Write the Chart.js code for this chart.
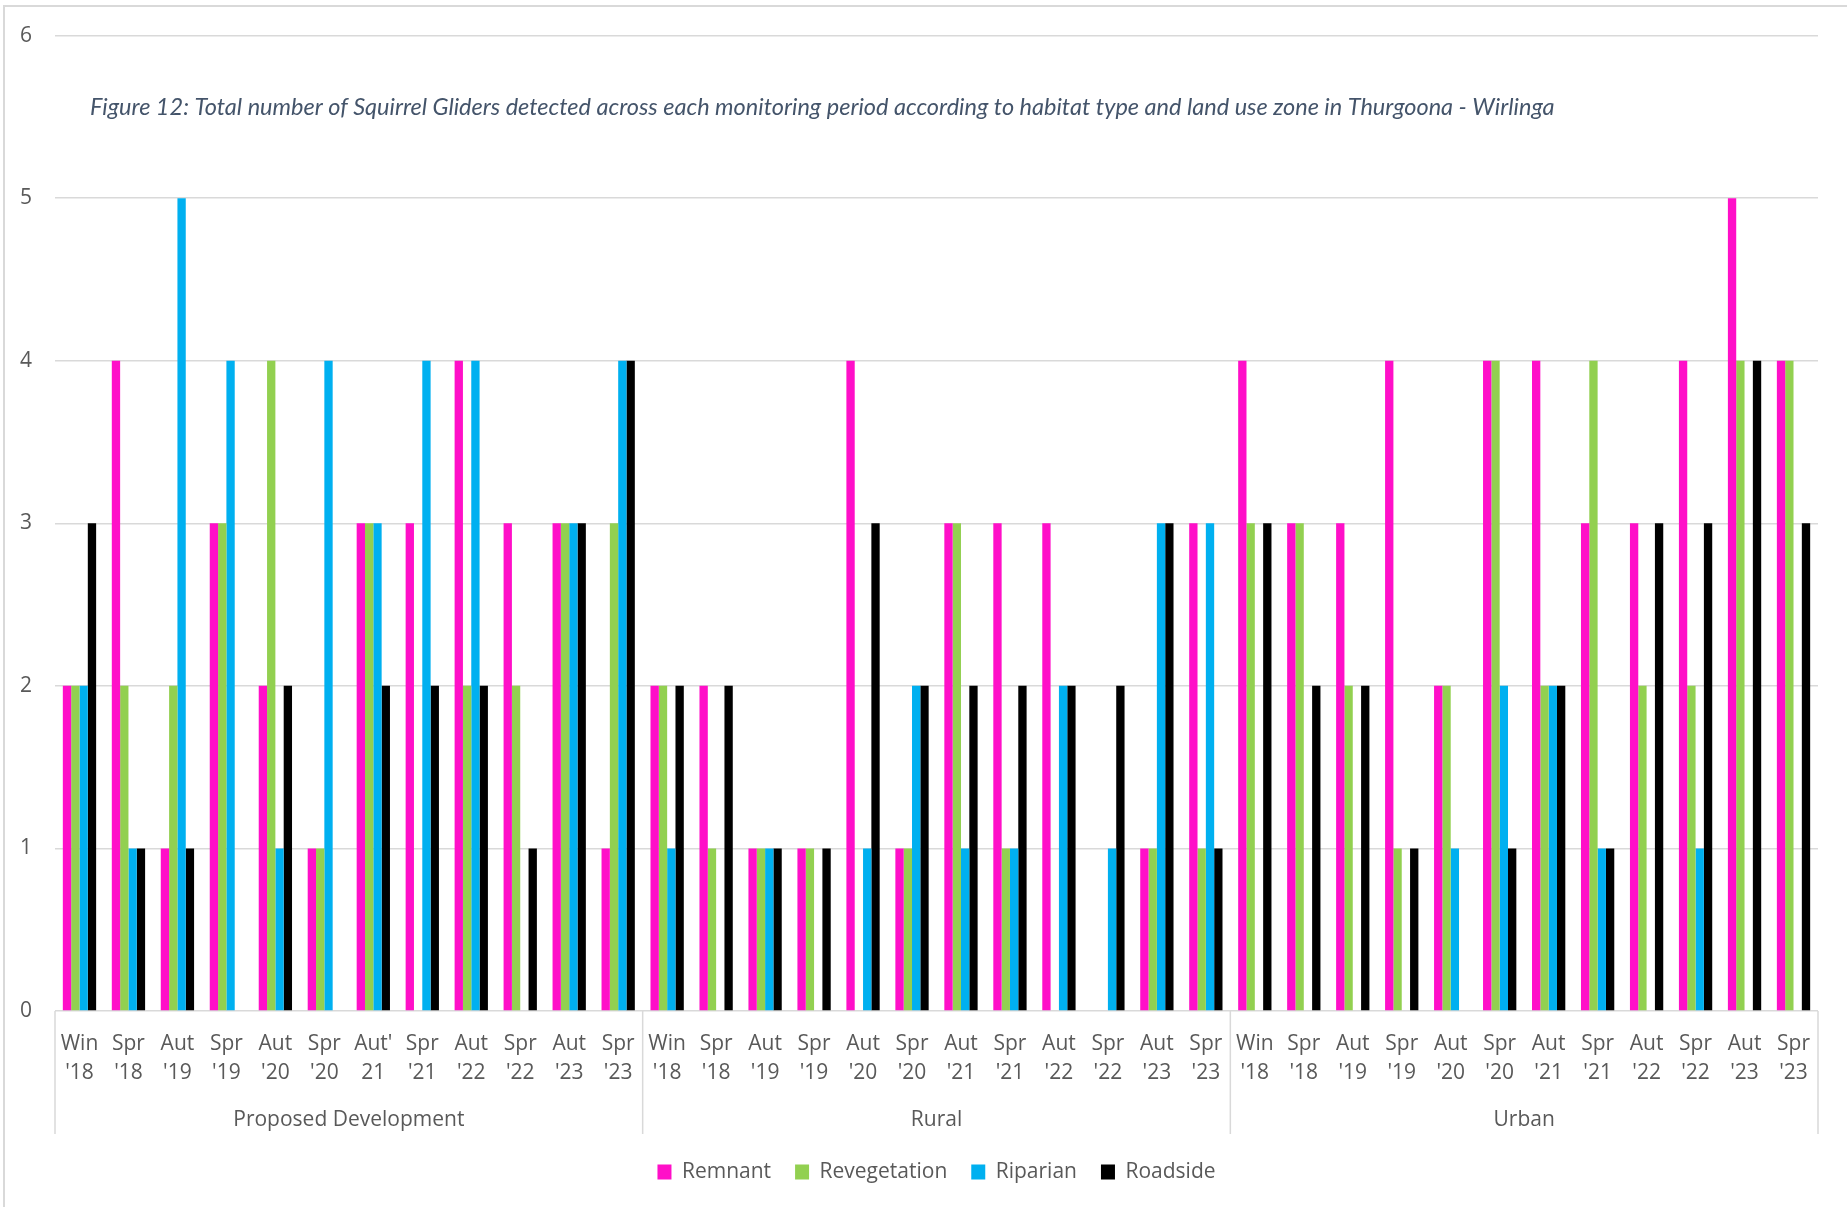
<!DOCTYPE html>
<html>
<head>
<meta charset="utf-8">
<script src="https://cdn.jsdelivr.net/npm/chart.js@4/dist/chart.umd.min.js"></script>
<style>
  html, body { margin: 0; padding: 0; background: #fff; overflow: hidden; }
  #page { position: relative; width: 1847px; height: 1207px; overflow: hidden; }
  #frame { position: absolute; left: 3px; top: 5px; width: 1900px; height: 1300px;
           border-left: 2px solid #d9d9d9; border-top: 2px solid #d9d9d9; }
  #wrap { position: absolute; left: 0; top: 0; width: 1847px; height: 1207px; }
</style>
</head>
<body>
<div id="page">
  <div id="frame"></div>
  <div id="wrap"><canvas id="chart"></canvas></div>
</div>
<script>
  // Monitoring periods (same per zone, PD has the odd "Aut'" label)
  const periodsPD = [['Win', "'18"], ['Spr', "'18"], ['Aut', "'19"], ['Spr', "'19"], ['Aut', "'20"], ['Spr', "'20"],
                     ["Aut'", '21'], ['Spr', "'21"], ['Aut', "'22"], ['Spr', "'22"], ['Aut', "'23"], ['Spr', "'23"]];
  const periods = [['Win', "'18"], ['Spr', "'18"], ['Aut', "'19"], ['Spr', "'19"], ['Aut', "'20"], ['Spr', "'20"],
                   ['Aut', "'21"], ['Spr', "'21"], ['Aut', "'22"], ['Spr', "'22"], ['Aut', "'23"], ['Spr', "'23"]];
  const zones = ['Proposed Development', 'Rural', 'Urban'];
  const labels = periodsPD.concat(periods, periods);

  //                 ---- Proposed Development ----  ------- Rural -------------  ------- Urban -------------
  const remnant =      [2, 4, 1, 3, 2, 1, 3, 3, 4, 3, 3, 1,  2, 2, 1, 1, 4, 1, 3, 3, 3, 0, 1, 3,  4, 3, 3, 4, 2, 4, 4, 3, 3, 4, 5, 4];
  const revegetation = [2, 2, 2, 3, 4, 1, 3, 0, 2, 2, 3, 3,  2, 1, 1, 1, 0, 1, 3, 1, 0, 0, 1, 1,  3, 3, 2, 1, 2, 4, 2, 4, 2, 2, 4, 4];
  const riparian =     [2, 1, 5, 4, 1, 4, 3, 4, 4, 0, 3, 4,  1, 0, 1, 0, 1, 2, 1, 1, 2, 1, 3, 3,  0, 0, 0, 0, 1, 2, 2, 1, 0, 1, 0, 0];
  const roadside =     [3, 1, 1, 0, 2, 0, 2, 2, 2, 1, 3, 4,  2, 2, 1, 1, 3, 2, 2, 2, 2, 2, 3, 1,  3, 2, 2, 1, 0, 1, 2, 1, 3, 3, 4, 3];

  const yTicks = [0, 1, 2, 3, 4, 5, 6];
  const titleText = 'Figure 12: Total number of Squirrel Gliders detected across each monitoring period according to habitat type and land use zone in Thurgoona - Wirlinga';

  const GRID = '#d9d9d9';
  const TEXT = '#595959';

  // Title sits inside the plot, under the top gridline
  const titlePlugin = {
    id: 'innerTitle',
    afterDraw(chart) {
      const { ctx, chartArea } = chart;
      ctx.save();
      ctx.font = 'italic 23.5px Lato';
      ctx.fillStyle = '#44546A';
      ctx.textBaseline = 'middle';
      ctx.fillText(titleText, chartArea.left + 35, chartArea.top + 72);
      ctx.restore();
    }
  };

  // Second label row: zone names with separator lines
  const zonePlugin = {
    id: 'zoneLabels',
    afterDraw(chart) {
      const { ctx, chartArea } = chart;
      const x = chart.scales.x;
      const per = periods.length;
      const half = (x.getPixelForValue(1) - x.getPixelForValue(0)) / 2;
      ctx.save();
      ctx.strokeStyle = GRID;
      ctx.lineWidth = 1.5;
      for (let g = 0; g <= zones.length; g++) {
        const px = g < zones.length ? x.getPixelForValue(g * per) - half : x.getPixelForValue(g * per - 1) + half;
        ctx.beginPath();
        ctx.moveTo(px, chartArea.bottom);
        ctx.lineTo(px, chartArea.bottom + 123);
        ctx.stroke();
      }
      ctx.font = '21px "Open Sans"';
      ctx.fillStyle = TEXT;
      ctx.textAlign = 'center';
      ctx.textBaseline = 'middle';
      zones.forEach((z, g) => {
        const mid = (x.getPixelForValue(g * per) + x.getPixelForValue(g * per + per - 1)) / 2;
        ctx.fillText(z, mid, chartArea.bottom + 109);
      });
      ctx.restore();
    }
  };

  const mk = (label, data, color) => ({ label, data, backgroundColor: color, borderWidth: 0 });

  new Chart(document.getElementById('chart'), {
    type: 'bar',
    data: {
      labels,
      datasets: [
        mk('Remnant', remnant, '#FF0FC8'),
        mk('Revegetation', revegetation, '#92D050'),
        mk('Riparian', riparian, '#00B0F0'),
        mk('Roadside', roadside, '#000000')
      ]
    },
    options: {
      responsive: true,
      maintainAspectRatio: false,
      animation: false,
      categoryPercentage: 0.68,
      barPercentage: 1.0,
      layout: { padding: { top: 34, left: 18, right: 29, bottom: 14.5 } },
      plugins: {
        legend: {
          position: 'bottom',
          fullSize: false,
          labels: {
            color: TEXT,
            font: { family: 'Open Sans', size: 21 },
            boxWidth: 14,
            boxHeight: 15,
            padding: 24
          }
        },
        tooltip: { enabled: false }
      },
      scales: {
        x: {
          grid: { display: false },
          border: { display: false },
          ticks: {
            color: TEXT,
            font: { family: 'Open Sans', size: 21, lineHeight: 1.4 },
            autoSkip: false,
            maxRotation: 0,
            minRotation: 0,
            padding: 10
          },
          afterFit: s => { s.height = 126.5; s.paddingLeft = 0; s.paddingRight = 0; }
        },
        y: {
          min: yTicks[0],
          max: yTicks[yTicks.length - 1],
          afterBuildTicks: s => { s.ticks = yTicks.map(v => ({ value: v })); },
          grid: { color: GRID, lineWidth: 1.5, drawTicks: false },
          border: { display: false },
          ticks: {
            color: TEXT,
            font: { family: 'Open Sans', size: 21 },
            padding: 23
          },
          afterFit: s => { s.width = 37; }
        }
      }
    },
    plugins: [titlePlugin, zonePlugin]
  });
</script>
</body>
</html>
